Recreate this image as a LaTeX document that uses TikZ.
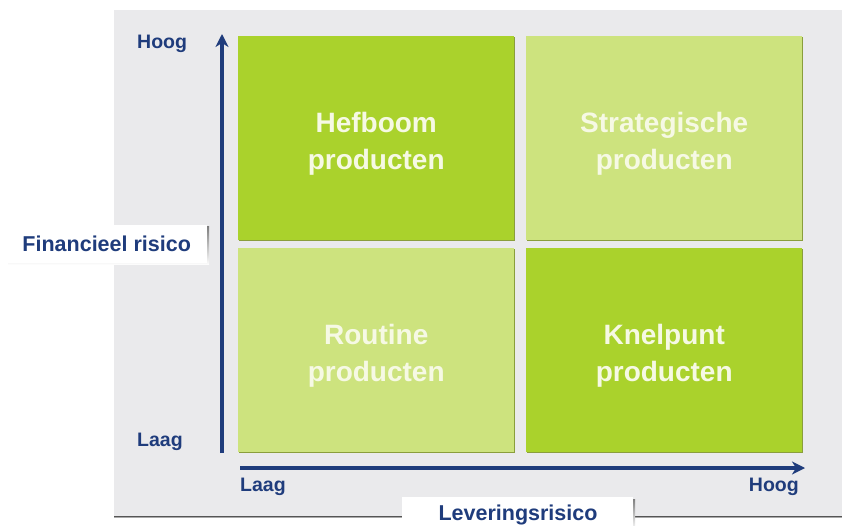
\documentclass[tikz,border=0pt]{standalone}
\usepackage{fontspec}
\setmainfont{Liberation Sans}
\usetikzlibrary{arrows.meta}
\definecolor{panelgray}{HTML}{EAEAEC}
\definecolor{navy}{HTML}{1F3C7C}
\definecolor{darkgreen}{HTML}{AAD22C}
\definecolor{lightgreen}{HTML}{CDE37E}
\definecolor{boxedge}{HTML}{8A9E3C}
\definecolor{shade}{HTML}{B4B4B4}
\definecolor{quadtext}{HTML}{F6F9E4}
\begin{document}
\begin{tikzpicture}[x=1pt,y=-1pt,
  quad/.style={minimum width=276pt, minimum height=204pt, anchor=north west,
    inner sep=0pt, align=center, text=quadtext,
    font=\fontsize{28}{37}\selectfont\bfseries},
  axislabel/.style={text=navy, font=\fontsize{19.5}{22}\selectfont\bfseries, inner sep=0pt},
  titlebox/.style={fill=white, inner sep=0pt, text=navy,
    font=\fontsize{21.5}{24}\selectfont\bfseries},
  axis/.style={navy, line width=3.5pt, -{Stealth[length=13pt,width=13pt,inset=4pt]}}]
\useasboundingbox (0,0) rectangle (842,526);
\fill[white] (0,0) rectangle (842,526);
% background panel
\fill[panelgray] (114,10) rectangle (842,517);
\fill[shade] (114,516.5) rectangle (842,518);

% quadrants with a thin darker edge on the right and bottom
\foreach \qx/\qy/\col in {238/36/darkgreen, 526/36/lightgreen,
                          238/248/lightgreen, 526/248/darkgreen}{
  \fill[boxedge] (\qx+1,\qy+1) rectangle (\qx+277,\qy+205);
  \fill[\col] (\qx,\qy) rectangle (\qx+276,\qy+204);
}
\node[quad] (hefboom) at (238,42) {Hefboom\\producten};
\node[quad] (strat) at (526,42) {Strategische\\producten};
\node[quad] (routine) at (238,254) {Routine\\producten};
\node[quad] (knel) at (526,254) {Knelpunt\\producten};

% axes
\coordinate (yfoot) at (222,453);
\coordinate (ytip) at (222,34);
\coordinate (xfoot) at (240,468);
\coordinate (xtip) at (805,468);
\draw[axis] (yfoot) -- (ytip);
\draw[axis] (xfoot) -- (xtip);

% axis end labels
\node[axislabel, anchor=west] (yhigh) at (137,44) {Hoog};
\node[axislabel, anchor=west] (ylow) at (137,442) {Laag};
\node[axislabel, anchor=west] (xlow) at (240,487) {Laag};
\node[axislabel, anchor=east] (xhigh) at (799,487) {Hoog};

% axis titles in white boxes
\fill[shade] (8,227) rectangle (209,265);
\node[titlebox, minimum width=201pt, minimum height=38pt, anchor=north west] (fin) at (6,225) {Financieel risico};
\fill[shade] (404,499) rectangle (635,530);
\node[titlebox, minimum width=231pt, minimum height=40pt, anchor=north west] (lev) at (402,497) {};
\node[titlebox, fill=none, anchor=center] (levtext) at (518,515) {Leveringsrisico};
\end{tikzpicture}
\end{document}
